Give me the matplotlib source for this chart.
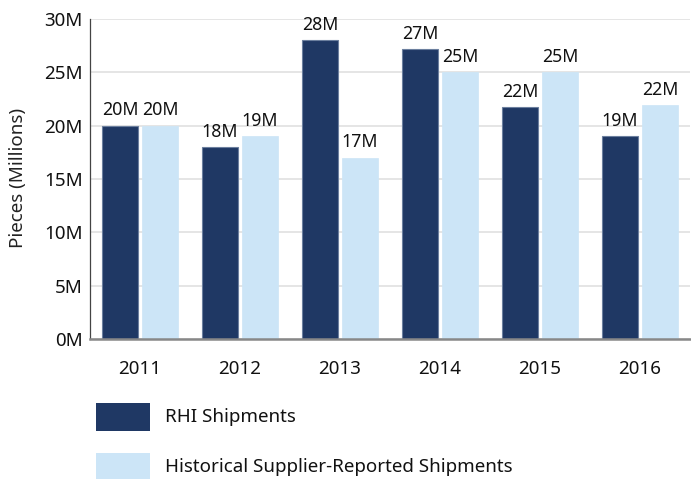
import matplotlib
matplotlib.use("Agg")
import matplotlib.pyplot as plt
from matplotlib.patches import Rectangle
import numpy as np

years = ["2011", "2012", "2013", "2014", "2015", "2016"]
rhi = [20.0, 18.0, 28.0, 27.2, 21.75, 19.0]
supplier = [20.0, 19.0, 17.0, 25.0, 25.0, 21.9]
series_names = ["RHI Shipments", "Historical Supplier-Reported Shipments"]
yticks = [0, 5, 10, 15, 20, 25, 30]

DARK = "#1f3864"
LIGHT = "#cce5f7"
FS = 13.5

plt.rcParams['font.family'] = ['Noto Sans', 'DejaVu Sans']

W, H = 691, 479
fig = plt.figure(figsize=(W / 100, H / 100), dpi=100)
ax = fig.add_axes([90 / W, 1 - 339 / H, 600 / W, 320 / H])

x = np.arange(len(years))
bw = 0.355
off = 0.2
b1 = ax.bar(x - off, rhi, bw, color=DARK, edgecolor="#6b7f9e", linewidth=0.8, zorder=3)
b2 = ax.bar(x + off, supplier, bw, color=LIGHT, edgecolor=LIGHT, linewidth=0.5, zorder=3)

for bars, vals in ((b1, rhi), (b2, supplier)):
    for r, v in zip(bars, vals):
        ax.annotate(f"{round(v):d}M", (r.get_x() + r.get_width() / 2, v),
                    xytext=(0, 4.5), textcoords="offset points",
                    ha="center", va="bottom", fontsize=12.8, color="#111111")

ax.set_xlim(-0.5, len(years) - 0.5)
ax.set_ylim(0, 30)
ax.set_yticks(yticks)
ax.set_yticklabels([f"{t}M" for t in yticks])
ax.set_xticks(x)
ax.set_xticklabels(years)
ax.tick_params(axis="both", length=0, labelsize=FS, colors="#111111")
ax.tick_params(axis="y", pad=5)
ax.tick_params(axis="x", pad=15)
ax.grid(axis="y", color="#e0e0e0", linewidth=1.2, zorder=0)
ax.set_axisbelow(True)
for s in ("top", "right"):
    ax.spines[s].set_visible(False)
ax.spines["left"].set_color("#444444")
ax.spines["left"].set_linewidth(0.9)
ax.spines["bottom"].set_color("#888888")
ax.spines["bottom"].set_linewidth(1.8)
ax.spines["bottom"].set_zorder(4)

fig.text(18 / W, 1 - 178 / H, "Pieces (Millions)", rotation=90,
         ha="center", va="center", fontsize=FS, color="#222222")

# legend
for i, (name, col) in enumerate(zip(series_names, [DARK, LIGHT])):
    y0 = 403 + i * 50
    fig.add_artist(Rectangle((96 / W, 1 - (y0 + 28) / H), 54 / W, 28 / H,
                             transform=fig.transFigure, facecolor=col,
                             edgecolor="none"))
    fig.text(165 / W, 1 - (y0 + 14) / H, name, ha="left", va="center",
             fontsize=FS, color="#111111")

fig.savefig("out.png", dpi=100)
